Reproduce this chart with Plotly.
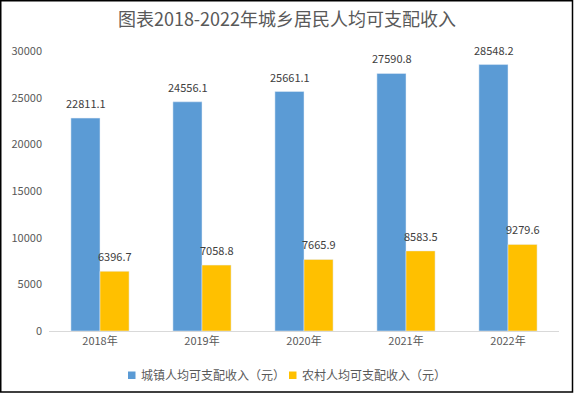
import plotly.graph_objects as go

years = ["2018年", "2019年", "2020年", "2021年", "2022年"]
urban = [22811.1, 24556.1, 25661.1, 27590.8, 28548.2]
rural = [6396.7, 7058.8, 7665.9, 8583.5, 9279.6]
urban_name = "城镇人均可支配收入（元）"
rural_name = "农村人均可支配收入（元）"
title_text = "图表2018-2022年城乡居民人均可支配收入"
colors = ["#5B9BD5", "#FFC000"]

W, H = 574, 394
ML, MR, MT, MB = 49, 15, 51, 63
font_family = "Noto Sans CJK SC, Noto Sans, sans-serif"
pw = W - ML - MR
ph = H - MT - MB


def px_x(p):
    return (p - ML) / pw


def px_y(p):
    return (MT + ph - p) / ph


fig = go.Figure()
fig.add_trace(go.Bar(x=years, y=urban, name=urban_name, marker_color=colors[0]))
fig.add_trace(go.Bar(x=years, y=rural, name=rural_name, marker_color=colors[1]))

annotations = []
for xs, vals in ((-14.5, urban), (14.5, rural)):
    for yr, v in zip(years, vals):
        annotations.append(dict(x=yr, y=v, xref="x", yref="y", text=f"{v:.1f}",
                                showarrow=False, xshift=xs, yanchor="bottom", yshift=5,
                                font=dict(size=11, color="#404040", family=font_family)))

# manual legend (compact like the original)
legend_items = [(urban_name, colors[0], 128), (rural_name, colors[1], 289)]
shapes = []
for name, col, x0 in legend_items:
    shapes.append(dict(type="rect", xref="paper", yref="paper",
                       x0=px_x(x0), x1=px_x(x0 + 7.5), y0=px_y(379), y1=px_y(371.5),
                       line=dict(width=0), fillcolor=col))
    annotations.append(dict(x=px_x(x0 + 11), y=px_y(375), xref="paper", yref="paper",
                            text=name, showarrow=False, xanchor="left", yanchor="middle",
                            font=dict(size=12, color="#595959", family=font_family)))

shapes.append(dict(type="rect", xref="paper", yref="paper",
                   x0=px_x(0.75), x1=px_x(W - 1.5), y0=px_y(H - 2), y1=px_y(0.75),
                   line=dict(color="black", width=1.5), fillcolor="rgba(0,0,0,0)", layer="above"))

fig.update_layout(
    width=W, height=H,
    margin=dict(l=ML, r=MR, t=MT, b=MB, autoexpand=False),
    paper_bgcolor="white", plot_bgcolor="white",
    barmode="group", bargap=0.43, bargroupgap=0,
    font=dict(family=font_family, color="#595959", size=11),
    title=dict(text=title_text, x=0.5, xanchor="center", y=1 - 20 / H, yanchor="middle",
               font=dict(size=18, color="#595959", family=font_family)),
    xaxis=dict(showline=True, linecolor="#D9D9D9", linewidth=1, ticks="",
               tickfont=dict(size=11, color="#595959"), automargin=False),
    yaxis=dict(range=[0, 30000], dtick=5000, tickformat="d", showgrid=False, zeroline=False,
               showline=False, ticks="", tickfont=dict(size=11, color="#595959"),
               ticklabelstandoff=6, automargin=False),
    showlegend=False,
    annotations=annotations,
    shapes=shapes,
)

fig.write_html("out.html", config={"displayModeBar": False},
               post_script="document.body.style.margin='0';document.body.style.overflow='hidden';")
